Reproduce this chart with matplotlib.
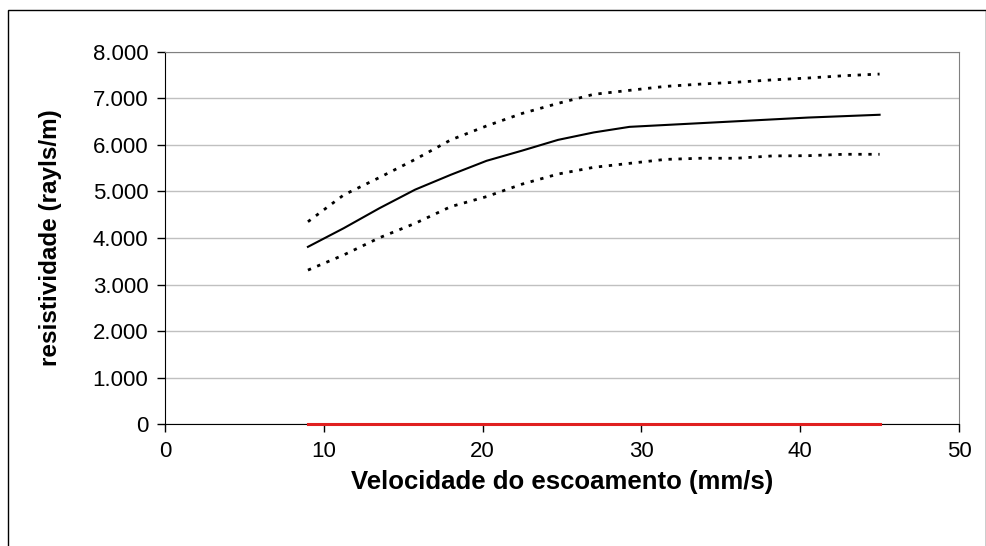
import matplotlib.pyplot as plt
from matplotlib.patches import Rectangle
from matplotlib.ticker import FuncFormatter

plt.rcParams['font.family'] = ['Liberation Sans', 'DejaVu Sans']

# velocidade (mm/s)
vel = [9, 11.25, 13.5, 15.75, 18, 20.25, 22.5, 24.75, 27, 29.25,
       31.5, 33.75, 36, 38.25, 40.5, 42.75, 45]
media = [3810, 4210, 4640, 5040, 5360, 5660, 5880, 6110, 6270, 6390,
         6430, 6470, 6510, 6550, 6590, 6620, 6650]
superior = [4350, 4925, 5300, 5690, 6110, 6410, 6680, 6895, 7090, 7175,
            7260, 7310, 7350, 7400, 7440, 7490, 7525]
inferior = [3310, 3635, 4005, 4315, 4675, 4890, 5160, 5375, 5520, 5605,
            5690, 5715, 5715, 5765, 5770, 5800, 5800]
zero = [0] * len(vel)

fig = plt.figure(figsize=(9.87, 5.46), dpi=100)
ax = fig.add_axes([0.1672, 0.2234, 0.8044, 0.6814])

# moldura externa
fig.patches.append(Rectangle((8 / 987, -0.05), 978 / 987, 1.05 - 10 / 546,
                             transform=fig.transFigure, fill=False,
                             edgecolor='black', linewidth=1))

ax.plot(vel, media, color='black', linewidth=1.5)
ax.plot(vel, superior, color='black', linewidth=2, linestyle=(0, (1.2, 2.4)))
ax.plot(vel, inferior, color='black', linewidth=2, linestyle=(0, (1.2, 2.4)))
ax.plot(vel, zero, color='#e02020', linewidth=2.2, zorder=5, clip_on=False)

ax.set_xlim(0, 50)
ax.set_ylim(0, 8000)
ax.set_xticks(range(0, 51, 10))
ax.set_yticks(range(0, 8001, 1000))
ax.yaxis.set_major_formatter(FuncFormatter(
    lambda v, p: '0' if v == 0 else f'{int(v):,}'.replace(',', '.')))

ax.grid(axis='y', color='#c0c0c0', linewidth=1)
ax.set_axisbelow(True)
for s in ['top', 'right']:
    ax.spines[s].set_color('#808080')
for s in ['left', 'bottom']:
    ax.spines[s].set_color('black')
ax.tick_params(direction='out', length=6, width=1, labelsize=16, pad=6)

ax.set_xlabel('Velocidade do escoamento (mm/s)', fontsize=18.5,
              fontweight='bold', labelpad=6)
ax.set_ylabel('resistividade (rayls/m)', fontsize=17.5, fontweight='bold',
              labelpad=22)

fig.savefig('out.png', dpi=100)
